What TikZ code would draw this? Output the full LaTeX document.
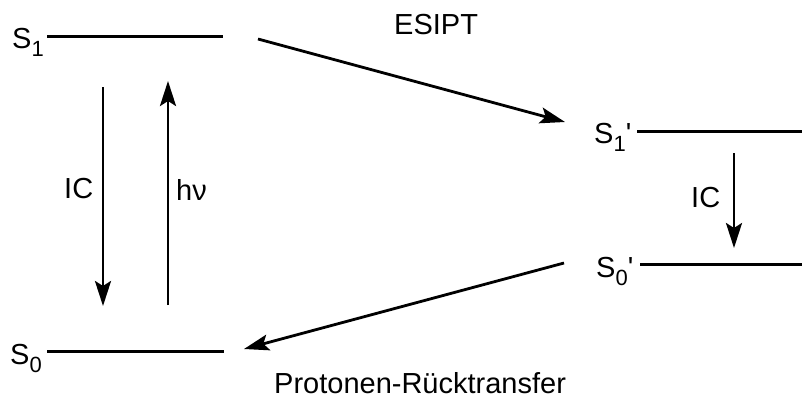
\documentclass[tikz,border=0pt]{standalone}
\usepackage{fontspec}
\newfontfamily\af{Liberation Sans}
\usetikzlibrary{arrows.meta}
\newcommand{\lowsub}[1]{\raisebox{-0.28em}{\fontsize{22}{22}\selectfont #1}}
\begin{document}
\begin{tikzpicture}[x=1pt,y=-1pt,
  lvl/.style={line width=3pt},
  arr/.style={line width=2.8pt,-{Stealth[length=25pt,width=16pt,inset=5pt]}},
  lbl/.style={font=\af\fontsize{29}{29}\selectfont,inner sep=0pt,anchor=base west}]
\useasboundingbox (0,0) rectangle (802,400);
% levels
\coordinate (s1a) at (47,36);  \coordinate (s1b) at (223,36);
\coordinate (s0a) at (47,351); \coordinate (s0b) at (224,351);
\coordinate (t1a) at (637,131); \coordinate (t1b) at (802,131);
\coordinate (t0a) at (640,264); \coordinate (t0b) at (802,264);
\draw[lvl] (s1a) -- (s1b);
\draw[lvl] (s0a) -- (s0b);
\draw[lvl] (t1a) -- (t1b);
\draw[lvl] (t0a) -- (t0b);
% labels
\node[lbl] (S1) at (12,48) {S\lowsub{1}};
\node[lbl] (S0) at (10,364) {S\lowsub{0}};
\node[lbl] (T1) at (594,143) {S\lowsub{1}'};
\node[lbl] (T0) at (596,277) {S\lowsub{0}'};
\node[lbl] (ic1) at (64,198) {IC};
\node[lbl] (hv) at (176,200) {hν};
\node[lbl] (ic2) at (691,207) {IC};
\node[lbl] (esipt) at (394,34) {ESIPT};
\node[lbl] (prt) at (274,393) {Protonen-Rücktransfer};
% arrows
\coordinate (a1s) at (103,87);  \coordinate (a1e) at (103,306);
\coordinate (a2s) at (168,305); \coordinate (a2e) at (168,81);
\coordinate (a3s) at (734,153); \coordinate (a3e) at (734,248);
\coordinate (a4s) at (258,39);  \coordinate (a4e) at (565,122);
\coordinate (a5s) at (564,263); \coordinate (a5e) at (244,349);
\draw[arr] (a1s) -- (a1e);
\draw[arr] (a2s) -- (a2e);
\draw[arr] (a3s) -- (a3e);
\draw[arr] (a4s) -- (a4e);
\draw[arr] (a5s) -- (a5e);
\end{tikzpicture}
\end{document}
